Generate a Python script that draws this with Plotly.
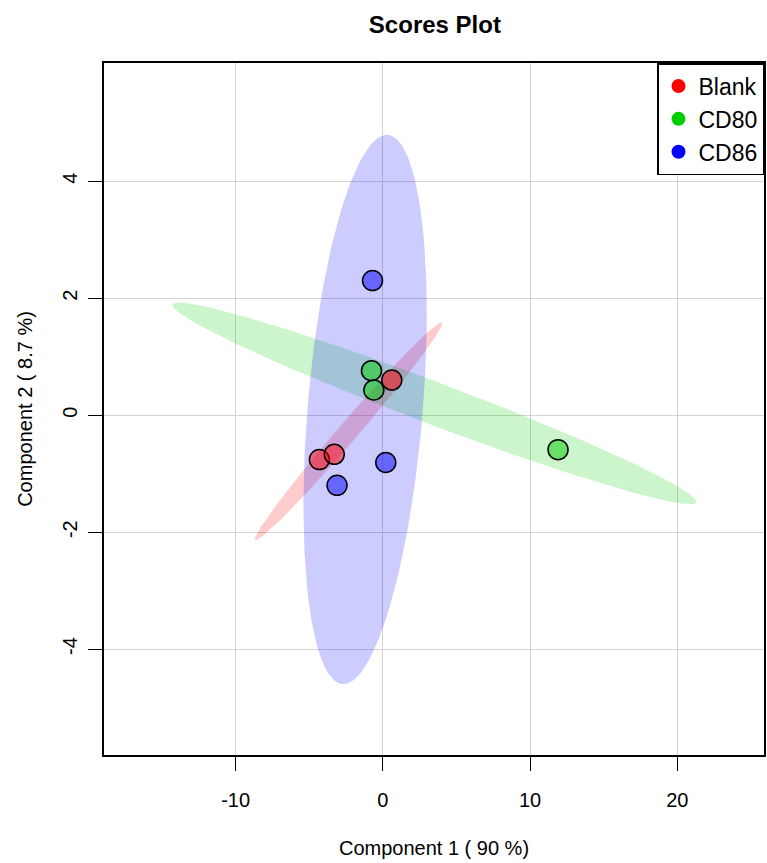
import numpy as np
import plotly.graph_objects as go

groups = ["Blank", "CD80", "CD86"]
blank_x = [-4.31, -3.30, 0.61]
blank_y = [-0.76, -0.67, 0.60]
cd80_x = [-0.77, -0.61, 11.90]
cd80_y = [0.76, 0.43, -0.59]
cd86_x = [-0.70, 0.20, -3.11]
cd86_y = [2.30, -0.81, -1.20]

xs = {"Blank": blank_x, "CD80": cd80_x, "CD86": cd86_x}
ys = {"Blank": blank_y, "CD80": cd80_y, "CD86": cd86_y}
base = {"Blank": (255, 0, 0), "CD80": (0, 205, 0), "CD86": (0, 0, 255)}

x_ticks = [-10, 0, 10, 20]
y_ticks = [-4, -2, 0, 2, 4]


def rgba(c, a):
    return f"rgba({c[0]},{c[1]},{c[2]},{a})"


def ellipse(x, y, level=0.95, n=200):
    pts = np.column_stack([x, y])
    mu = pts.mean(axis=0)
    cov = np.cov(pts, rowvar=False)
    t = np.sqrt(-2 * np.log(1 - level))
    vals, vecs = np.linalg.eigh(cov)
    th = np.linspace(0, 2 * np.pi, n)
    circ = np.vstack([np.cos(th), np.sin(th)])
    e = vecs @ (np.sqrt(np.maximum(vals, 0))[:, None] * circ) * t
    return e[0] + mu[0], e[1] + mu[1]


fig = go.Figure()

for g in groups:
    ex, ey = ellipse(xs[g], ys[g])
    fig.add_trace(go.Scatter(x=ex, y=ey, mode="lines", fill="toself",
                             fillcolor=rgba(base[g], 0.2), line=dict(width=0),
                             hoverinfo="skip", showlegend=False))

for g in groups:
    fig.add_trace(go.Scatter(x=xs[g], y=ys[g], mode="markers", showlegend=False,
                             marker=dict(size=20, color=rgba(base[g], 0.5),
                                         line=dict(color="black", width=1.5))))

for g in groups:
    fig.add_trace(go.Scatter(x=[None], y=[None], mode="markers", name=g,
                             marker=dict(size=14, color=rgba(base[g], 1))))

fig.update_layout(
    width=767, height=863,
    margin=dict(l=104, r=1, t=63, b=108),
    paper_bgcolor="white", plot_bgcolor="white",
    font=dict(family="Liberation Sans, Arial, sans-serif", size=20, color="black"),
    title=dict(text="<b>Scores Plot</b>", x=0.567, xanchor="center", y=0.971,
               yanchor="middle", font=dict(size=24)),
    legend=dict(x=1, y=1, xanchor="right", yanchor="top", bgcolor="white",
                bordercolor="black", borderwidth=1.5, font=dict(size=23),
                itemwidth=30, tracegroupgap=0),
    showlegend=True,
)

fig.update_xaxes(range=[-18.94, 25.89], tickvals=x_ticks, ticktext=[str(v) for v in x_ticks],
                 showgrid=True, gridcolor="#d3d3d3", gridwidth=1, zeroline=False,
                 showline=True, mirror=True, linecolor="black", linewidth=1.5,
                 ticks="outside", ticklen=14, tickwidth=1, tickcolor="black",
                 ticklabelstandoff=12,
                 title=dict(text="Component 1 ( 90 %)", standoff=31, font=dict(size=20)))
fig.update_yaxes(range=[-5.81, 6.02], tickvals=y_ticks, ticktext=[str(v) for v in y_ticks],
                 showgrid=True, gridcolor="#d3d3d3", gridwidth=1, zeroline=False,
                 showline=True, mirror=True, linecolor="black", linewidth=1.5,
                 ticks="outside", ticklen=14, tickwidth=1, tickcolor="black",
                 tickangle=-90, ticklabelstandoff=3,
                 title=dict(text="Component 2 ( 8.7 %)", standoff=21, font=dict(size=20)))

fig.write_html("out.html")
